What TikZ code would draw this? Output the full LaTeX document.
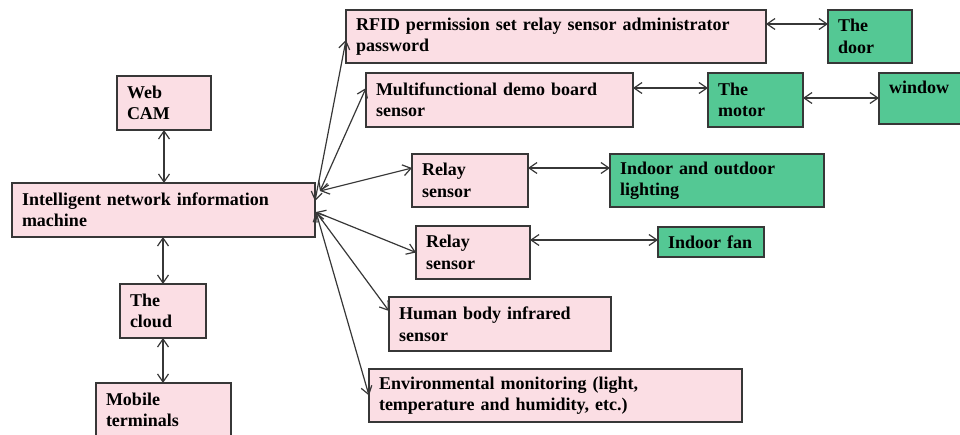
\documentclass[tikz,border=0pt]{standalone}
\usepackage{fontspec}
\setmainfont{Liberation Serif}
\usetikzlibrary{arrows.meta}
\definecolor{pinkfill}{RGB}{251,222,228}
\definecolor{greenfill}{RGB}{84,200,148}
\definecolor{edgecol}{RGB}{55,55,55}
\begin{document}
\begin{tikzpicture}[x=1pt,y=-1pt,
  base/.style={draw=edgecol, line width=1.3pt, anchor=north west, inner xsep=10pt, inner ysep=0pt,
    outer sep=0pt, align=left, font=\fontsize{18}{21.5}\selectfont\bfseries, text=black},
  pbox/.style={base, fill=pinkfill},
  gbox/.style={base, fill=greenfill},
  link/.style={draw=edgecol, line width=1.2pt,
    {Straight Barb[length=8pt,width=11pt]}-{Straight Barb[length=8pt,width=11pt]}}]
\clip (0,0) rectangle (960,435);
% left column
\node[pbox, text width=74pt, minimum height=54pt] (web) at (117,76) {Web\\CAM};
\node[pbox, text width=283pt, minimum height=54pt] (intel) at (12,183) {Intelligent network information\\machine};
\node[pbox, text width=66pt, minimum height=54pt] (cloud) at (120,284) {The\\cloud};
\node[pbox, text width=115pt, minimum height=54pt] (mobile) at (96,383) {Mobile\\terminals};
% sensors
\node[pbox, text width=400pt, minimum height=53pt] (rfid) at (346,10) {RFID permission set relay sensor administrator\\password};
\node[pbox, text width=247pt, minimum height=54pt] (multi) at (366,73) {Multifunctional demo board\\sensor};
\node[pbox, text width=96pt, minimum height=53pt] (relay1) at (412,154) {Relay\\sensor};
\node[pbox, text width=94pt, minimum height=53pt] (relay2) at (416,226) {Relay\\sensor};
\node[pbox, text width=202pt, minimum height=54pt] (human) at (389,297) {Human body infrared\\sensor};
\node[pbox, text width=353pt, minimum height=53pt] (env) at (369,369) {Environmental monitoring (light,\\temperature and humidity, etc.)};
% actuators
\node[gbox, text width=64pt, minimum height=53pt] (door) at (828,10) {The\\door};
\node[gbox, text width=75pt, minimum height=54pt] (motor) at (708,73) {The\\motor};
\node[gbox, text width=80pt, minimum height=51pt] (window) at (879,73) {window\\\mbox{}};
\node[gbox, text width=194pt, minimum height=53pt] (light) at (610,154) {Indoor and outdoor\\lighting};
\node[gbox, text width=86pt, minimum height=30pt] (fan) at (658,227) {Indoor fan};
% vertical links
\draw[link] (web.south) -- (web.south |- intel.north);
\draw[link] (cloud.north |- intel.south) -- (cloud.north);
\draw[link] (cloud.south) -- (cloud.south |- mobile.north);
% hub links
\draw[link] ([xshift=5pt,yshift=19pt]intel.east) -- ([yshift=-15pt]multi.north west);
\draw[link] ([xshift=5pt,yshift=19pt]intel.east) -- ([yshift=-14pt]relay1.north west);
\draw[link] ([yshift=9pt]intel.east) -- ([yshift=-30pt]rfid.north west);
\draw[link] ([xshift=1pt,yshift=-2pt]intel.east) -- (relay2.west);
\draw[link] ([xshift=1pt,yshift=-2pt]intel.east) -- ([yshift=-14pt]human.north west);
\draw[link] ([xshift=1pt,yshift=-2pt]intel.east) -- (env.west);
% horizontal links
\draw[link] ([yshift=-14pt]rfid.north east) -- ([yshift=-14pt]door.north west);
\draw[link] ([yshift=-15pt]multi.north east) -- ([yshift=-15pt]motor.north west);
\draw[link] ([yshift=-25pt]motor.north east) -- ([yshift=-25pt]window.north west);
\draw[link] ([yshift=-14pt]relay1.north east) -- ([yshift=-14pt]light.north west);
\draw[link] ([yshift=-14pt]relay2.north east) -- ([yshift=-13pt]fan.north west);
\end{tikzpicture}
\end{document}
